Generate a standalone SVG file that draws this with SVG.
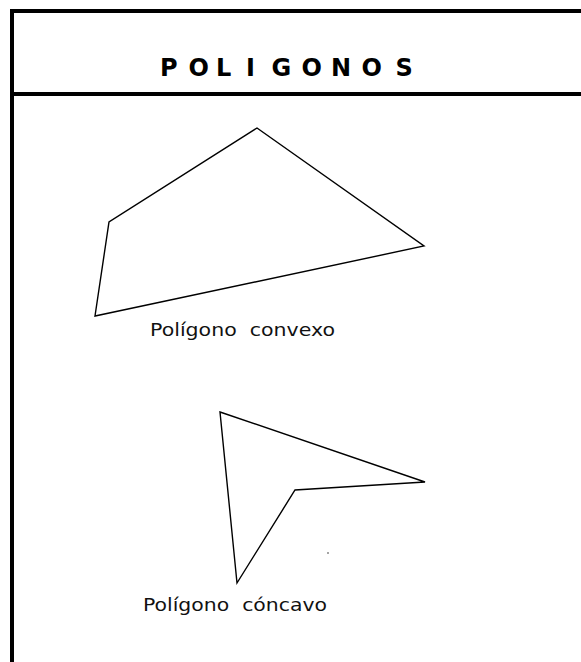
<svg xmlns="http://www.w3.org/2000/svg" width="581" height="662" viewBox="0 0 581 662">
<style>
.frame{stroke:#000;stroke-width:4;fill:none}
.poly{fill:none;stroke:#000;stroke-width:1.4;stroke-linejoin:miter}
.title{font-family:"DejaVu Sans",Verdana,sans-serif;font-weight:bold;font-size:24px;fill:#000}
.label{font-family:"DejaVu Sans",sans-serif;font-size:17px;fill:#111;white-space:pre}
</style>
<rect width="581" height="662" fill="#fff"/>
<g id="frame">
<line class="frame" x1="12" y1="11" x2="581" y2="11"/>
<line class="frame" x1="12" y1="94" x2="581" y2="94"/>
<line class="frame" x1="12" y1="9" x2="12" y2="662"/>
</g>
<g id="title">
<text class="title" x="160 188.5 216 246 271.5 301.5 331 361.5 395.5" y="76">POLIGONOS</text>
</g>
<g id="convex">
<polygon class="poly" points="257,128 424,246 95,316 109,222"/>
<text class="label" xml:space="preserve" x="150" y="336" textLength="185" lengthAdjust="spacingAndGlyphs">Polígono  convexo</text>
</g>
<g id="concave">
<polygon class="poly" points="220,412 425,482 295,490 237,583"/>
<circle cx="328" cy="553" r="0.8" fill="#333"/>
<text class="label" xml:space="preserve" x="143" y="611" textLength="184" lengthAdjust="spacingAndGlyphs">Polígono  cóncavo</text>
</g>
</svg>
